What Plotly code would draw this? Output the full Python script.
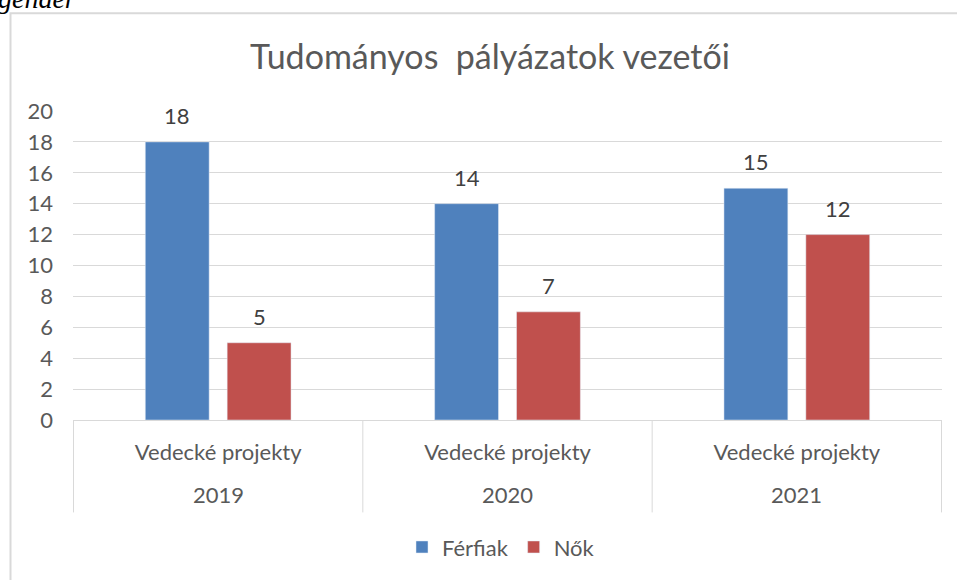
"""
Vedúci vedeckých projektov podľa pohlavia
"""

import plotly.graph_objects as go

years = ["2019", "2020", "2021"]
project = "Vedecké projekty"
ferfiak = [18, 14, 15]
nok = [5, 7, 12]
y_ticks = list(range(0, 21, 2))

W, H = 957, 580
L, R, T, B = 73, 15, 111, 158
PW, PH = W - L - R, H - T - B


def px_x(p):
    return (p - L) / PW


def px_y(p):
    return (H - B - p) / PH


text_color = "#595959"
grid_color = "#d9d9d9"
FS = 22
BARGAP = 0.434

fig = go.Figure()

fig.add_trace(
    go.Bar(
        x=years,
        y=ferfiak,
        name="Férfiak",
        marker_color="#4f81bd",
    )
)

fig.add_trace(
    go.Bar(
        x=years,
        y=nok,
        name="Nők",
        marker_color="#c0504d",
    )
)

# data labels above the bars
half_slot = (1 - BARGAP) / 4
for vals, side in [(ferfiak, -1), (nok, 1)]:
    for i, v in enumerate(vals):
        fig.add_annotation(
            x=i + side * half_slot,
            y=v,
            xref="x",
            yref="y",
            text=str(v),
            yanchor="bottom",
            yshift=11,
            showarrow=False,
            font=dict(size=FS, color="#404040"),
        )

fig.update_layout(
    width=W,
    height=H,
    margin=dict(l=L, r=R, t=T, b=B),
    plot_bgcolor="white",
    paper_bgcolor="white",
    font=dict(family="Lato, Open Sans, sans-serif", color=text_color, size=FS),
    barmode="group",
    bargap=BARGAP,
    bargroupgap=0.22,
    title=dict(
        text="Tudományos  pályázatok vezetői",
        font=dict(size=34, color=text_color),
        x=px_x(490),
        xanchor="center",
        xref="paper",
        y=1 - 57 / H,
        yanchor="middle",
        yref="container",
    ),
    legend=dict(
        orientation="h",
        x=px_x(501),
        xanchor="center",
        y=px_y(550),
        yanchor="middle",
        font=dict(size=FS, color=text_color),
        itemwidth=30,
    ),
)

fig.update_xaxes(
    type="category",
    tickvals=years,
    ticktext=[project] * len(years),
    showgrid=False,
    showline=True,
    linecolor=grid_color,
    linewidth=1,
    ticks="",
    ticklabelstandoff=13,
)

fig.update_yaxes(
    range=[0, 20],
    tickvals=y_ticks,
    showgrid=True,
    gridcolor=grid_color,
    gridwidth=1,
    zeroline=False,
    ticks="",
    ticklabelstandoff=19,
)

# year labels (outer category level)
for i, y in enumerate(years):
    fig.add_annotation(
        x=i,
        y=px_y(497),
        xref="x",
        yref="paper",
        text=y,
        yanchor="middle",
        showarrow=False,
        font=dict(size=FS, color=text_color),
    )

# category dividers under the axis
for k in range(len(years) + 1):
    fig.add_shape(
        type="line",
        xref="x",
        yref="paper",
        x0=k - 0.5,
        x1=k - 0.5,
        y0=0,
        y1=px_y(515),
        line=dict(color=grid_color, width=1),
    )

# outer chart frame (cropped)
fig.add_shape(
    type="rect",
    xref="paper",
    yref="paper",
    x0=px_x(10.5),
    x1=px_x(965),
    y0=px_y(600),
    y1=px_y(12.5),
    line=dict(color="#d9d9d9", width=2),
    layer="below",
)

# cropped caption from the page above
fig.add_annotation(
    text="gender",
    xref="paper",
    yref="paper",
    x=px_x(-4),
    y=px_y(15),
    xanchor="left",
    yanchor="bottom",
    showarrow=False,
    font=dict(family="Liberation Serif, serif", size=28, color="black", style="italic"),
)

fig.write_html(
    "out.html",
    config={"displayModeBar": False},
    post_script="document.body.style.margin='0';",
)
